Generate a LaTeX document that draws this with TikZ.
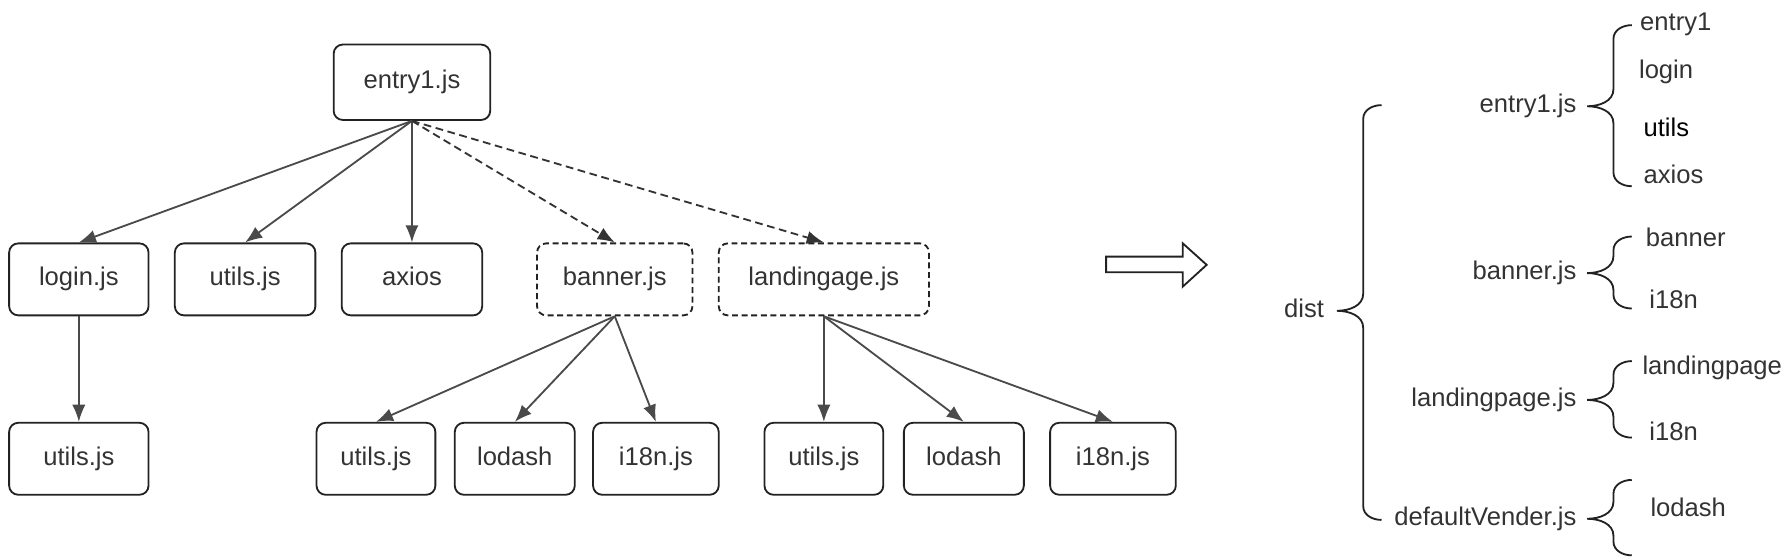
\documentclass[tikz,border=0pt]{standalone}
\usepackage{fontspec}
\setmainfont{Liberation Sans}
\usetikzlibrary{arrows.meta}

\definecolor{ink}{HTML}{333333}
\definecolor{edge}{HTML}{4A4A4A}
\definecolor{frame}{HTML}{222222}

% curly brace: #1 spine x, #2 top y, #3 tip y, #4 bottom y
\newcommand{\dbrace}[4]{%
  \draw[brace] (#1+16,#2) to[out=180,in=90] (#1,#2-12) -- (#1,#3+15)
    to[out=-90,in=0] (#1-23,#3) to[out=0,in=90] (#1,#3-15) -- (#1,#4+12)
    to[out=-90,in=180] (#1+16,#4);}

\begin{document}
\begin{tikzpicture}[x=0.5pt, y=0.5pt, >={Latex[length=7.5pt,width=5.8pt]},
  font=\fontsize{11.2}{13.4}\selectfont,
  box/.style={draw=frame, line width=0.8pt, rounded corners=4pt, text=ink,
    minimum height=31.5pt, text height=8pt, text depth=2.4pt},
  lazy/.style={box, dash pattern=on 2.6pt off 1.6pt},
  dep/.style={->, draw=edge, line width=0.8pt},
  lazydep/.style={dep, draw=ink, dash pattern=on 3.4pt off 2pt},
  lbl/.style={inner sep=0pt, text=ink, text height=8pt, text depth=2.4pt},
  brace/.style={draw=frame, line width=0.8pt}]
  \useasboundingbox (0,0) rectangle (1563,-490);

  % chunk graph
  \node[box, minimum width=68.5pt, minimum height=33pt] (entry) at (360.5,-72) {entry1.js};
  \node[box, minimum width=61pt] (login) at (69,-244.5) {login.js};
  \node[box, minimum width=61.5pt] (utilsA) at (214.5,-244.5) {utils.js};
  \node[box, minimum width=61.5pt] (axios) at (360.5,-244.5) {axios};
  \node[lazy, minimum width=68pt] (banner) at (538,-244.5) {banner.js};
  \node[lazy, minimum width=92pt] (landing) at (721,-244.5) {landingage.js};
  \node[box, minimum width=61pt] (utilsB) at (69,-401.5) {utils.js};
  \node[box, minimum width=52pt] (utilsC) at (329,-401.5) {utils.js};
  \node[box, minimum width=52.5pt] (lodashA) at (450.5,-401.5) {lodash};
  \node[box, minimum width=55pt] (i18nA) at (574,-401.5) {i18n.js};
  \node[box, minimum width=52pt] (utilsD) at (721,-401.5) {utils.js};
  \node[box, minimum width=52.5pt] (lodashB) at (843.5,-401.5) {lodash};
  \node[box, minimum width=55pt] (i18nB) at (974,-401.5) {i18n.js};

  \draw[dep] (entry.south) -- (login.north);
  \draw[dep] (entry.south) -- (utilsA.north);
  \draw[dep] (entry.south) -- (axios.north);
  \draw[lazydep] (entry.south) -- (banner.north);
  \draw[lazydep] (entry.south) -- (landing.north);
  \draw[dep] (login.south) -- (utilsB.north);
  \draw[dep] (banner.south) -- (utilsC.north);
  \draw[dep] (banner.south) -- (lodashA.north);
  \draw[dep] (banner.south) -- (i18nA.north);
  \draw[dep] (landing.south) -- (utilsD.north);
  \draw[dep] (landing.south) -- (lodashB.north);
  \draw[dep] (landing.south) -- (i18nB.north);

  % hollow arrow
  \draw[frame, line width=0.8pt, fill=white] (968,-224.6) -- (1035,-224.6) -- (1035,-212.9)
    -- (1056,-231.8) -- (1035,-250.9) -- (1035,-238.3) -- (968,-238.3) -- cycle;

  % output bundles
  \node[lbl, anchor=east] (dist) at (1159,-272) {dist};
  \dbrace{1193}{-92}{-272}{-455}

  \node[lbl, anchor=east] (outEntry) at (1380,-93) {entry1.js};
  \node[lbl, anchor=east] (outBanner) at (1380,-239) {banner.js};
  \node[lbl, anchor=east] (outLanding) at (1380,-350) {landingpage.js};
  \node[lbl, anchor=east] (outVender) at (1380,-454) {defaultVender.js};

  \dbrace{1412}{-22}{-93}{-163}
  \dbrace{1412}{-207}{-239}{-270}
  \dbrace{1412}{-316}{-350}{-383}
  \dbrace{1412}{-420}{-454}{-486}

  \node[lbl, anchor=west] (mEntry) at (1435,-21) {entry1};
  \node[lbl, anchor=west] (mLogin) at (1434,-63) {login};
  \node[lbl, anchor=west, text=black] (mUtils) at (1438,-114) {utils};
  \node[lbl, anchor=west] (mAxios) at (1438,-155) {axios};
  \node[lbl, anchor=west] (mBanner) at (1440,-210) {banner};
  \node[lbl, anchor=west] (mI18nA) at (1443,-264) {i18n};
  \node[lbl, anchor=west] (mLanding) at (1437,-322) {landingpage};
  \node[lbl, anchor=west] (mI18nB) at (1443,-380) {i18n};
  \node[lbl, anchor=west] (mLodash) at (1444,-446) {lodash};
\end{tikzpicture}
\end{document}
